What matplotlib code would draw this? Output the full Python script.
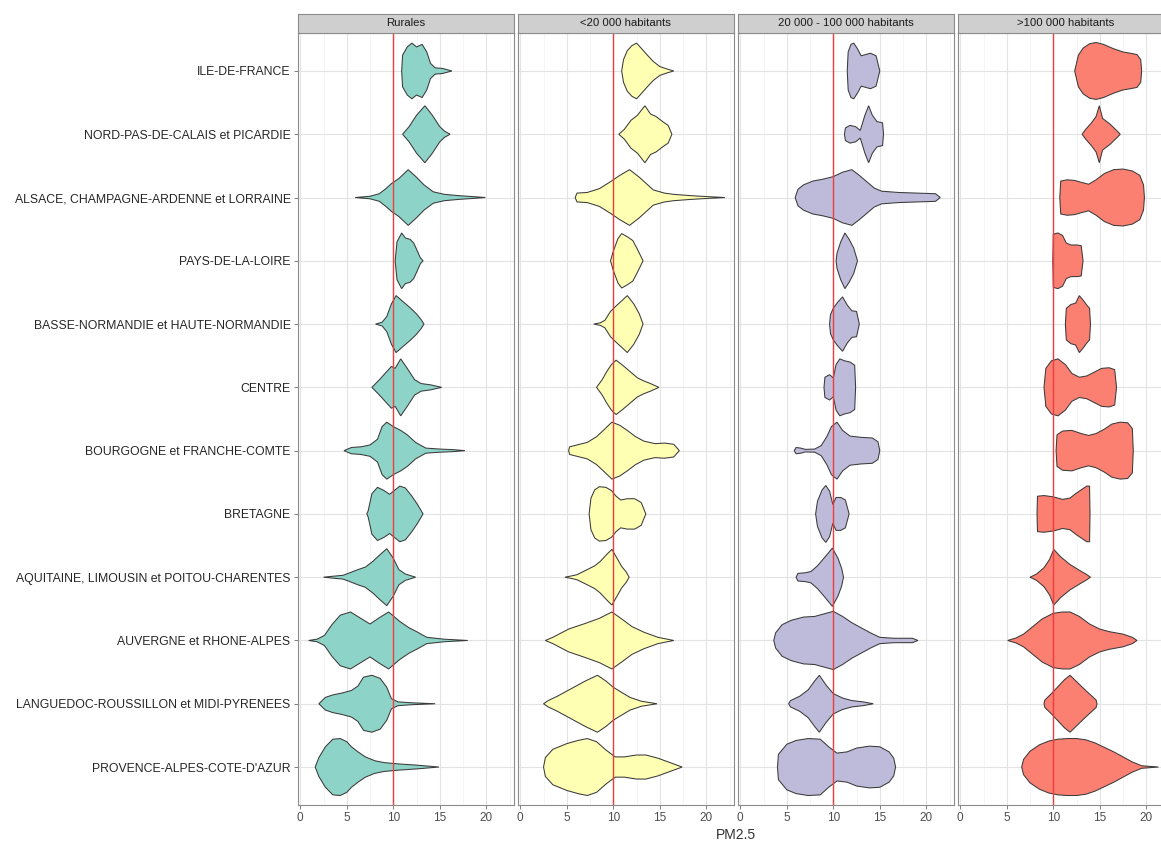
import matplotlib
matplotlib.use("Agg")
import matplotlib.pyplot as plt
from matplotlib.ticker import FixedLocator

plt.rcParams['font.family'] = ['Liberation Sans', 'DejaVu Sans']

regions = ["ILE-DE-FRANCE", "NORD-PAS-DE-CALAIS et PICARDIE",
           "ALSACE, CHAMPAGNE-ARDENNE et LORRAINE", "PAYS-DE-LA-LOIRE",
           "BASSE-NORMANDIE et HAUTE-NORMANDIE", "CENTRE",
           "BOURGOGNE et FRANCHE-COMTE", "BRETAGNE",
           "AQUITAINE, LIMOUSIN et POITOU-CHARENTES", "AUVERGNE et RHONE-ALPES",
           "LANGUEDOC-ROUSSILLON et MIDI-PYRENEES", "PROVENCE-ALPES-COTE-D'AZUR"]
panels = ["Rurales", "<20 000 habitants", "20 000 - 100 000 habitants", ">100 000 habitants"]
colors = ["#8DD3C7", "#FFFFB3", "#BEBADA", "#FB8072"]
x_ticks = [0, 5, 10, 15, 20]
threshold = 10

# violin outlines: PM2.5 values (knots) and half-widths of the density at each knot
rur_v = [
    [10.9, 11.0, 11.5, 12.0, 12.5, 13.1, 13.6, 14.0, 14.5, 15.3, 16.3],
    [11.0, 11.7, 12.5, 13.4, 14.2, 15.0, 15.5, 16.1],
    [5.9, 7.5, 8.5, 9.2, 9.8, 10.6, 11.6, 12.5, 13.3, 14.3, 15.5, 17.0, 18.5, 19.9],
    [10.2, 10.4, 10.9, 11.3, 11.8, 12.2, 12.6, 12.9, 13.2],
    [8.1, 8.8, 9.3, 9.8, 10.3, 11.0, 11.8, 12.5, 13.0, 13.3],
    [7.7, 8.5, 9.3, 9.8, 10.2, 10.8, 11.5, 12.3, 13.0, 14.0, 15.2],
    [4.7, 5.5, 6.5, 7.5, 8.3, 8.8, 9.3, 10.0, 10.8, 11.5, 12.4, 13.5, 15.0, 16.5, 17.7],
    [7.15, 7.3, 7.7, 8.3, 9.0, 9.6, 10.2, 10.7, 11.3, 12.0, 12.6, 13.2],
    [2.5, 3.5, 4.6, 5.5, 6.2, 7.0, 7.8, 8.6, 9.3, 10.0, 10.6, 11.3, 12.4],
    [0.9, 1.8, 2.6, 3.4, 4.3, 5.4, 6.5, 7.5, 8.5, 9.5, 10.7, 11.7, 12.5, 13.6, 15.5, 18.0],
    [2.0, 2.7, 3.5, 4.5, 5.5, 6.2, 6.8, 7.7, 8.6, 9.3, 9.8, 10.5, 12.0, 14.5],
    [1.6, 2.0, 2.7, 3.5, 4.3, 5.0, 5.5, 6.2, 7.0, 8.0, 9.0, 10.5, 12.5, 14.9],
]
rur_w = [
    [0, 0.25, 0.38, 0.44, 0.38, 0.42, 0.30, 0.12, 0.05, 0.04, 0],
    [0, 0.12, 0.30, 0.45, 0.30, 0.12, 0.05, 0],
    [0, 0.02, 0.06, 0.14, 0.22, 0.30, 0.44, 0.32, 0.20, 0.09, 0.05, 0.03, 0.015, 0],
    [0, 0.30, 0.44, 0.36, 0.34, 0.28, 0.15, 0.05, 0],
    [0, 0.03, 0.12, 0.32, 0.45, 0.36, 0.26, 0.16, 0.07, 0],
    [0, 0.12, 0.25, 0.33, 0.30, 0.45, 0.30, 0.12, 0.06, 0.04, 0],
    [0, 0.05, 0.06, 0.09, 0.18, 0.38, 0.45, 0.38, 0.32, 0.25, 0.13, 0.04, 0.025, 0.015, 0],
    [0, 0.05, 0.32, 0.42, 0.37, 0.31, 0.38, 0.44, 0.41, 0.28, 0.15, 0],
    [0, 0.015, 0.03, 0.08, 0.12, 0.16, 0.25, 0.36, 0.45, 0.30, 0.12, 0.05, 0],
    [0, 0.02, 0.08, 0.25, 0.40, 0.45, 0.35, 0.26, 0.36, 0.45, 0.30, 0.20, 0.14, 0.05, 0.02, 0],
    [0, 0.10, 0.14, 0.17, 0.21, 0.28, 0.42, 0.45, 0.40, 0.26, 0.08, 0.03, 0.015, 0],
    [0, 0.15, 0.32, 0.44, 0.45, 0.40, 0.32, 0.24, 0.16, 0.10, 0.07, 0.05, 0.03, 0],
]

small_v = [
    [10.9, 11.1, 11.5, 12.0, 12.5, 13.0, 13.6, 14.3, 15.0, 15.8, 16.5],
    [10.6, 11.2, 11.9, 12.6, 13.4, 14.0, 14.6, 15.3, 15.9, 16.3],
    [5.9, 6.1, 7.2, 8.5, 9.7, 10.7, 11.75, 12.8, 14.3, 15.5, 16.5, 18.3, 20.0, 22.0],
    [9.7, 10.0, 10.5, 10.9, 11.5, 12.1, 12.6, 13.0, 13.2],
    [7.9, 8.6, 9.1, 9.7, 10.4, 11.0, 11.5, 12.2, 12.8, 13.2],
    [8.2, 8.8, 9.3, 9.8, 10.3, 11.0, 11.8, 12.6, 13.3, 14.0, 14.9],
    [5.2, 5.3, 6.1, 7.2, 8.2, 9.0, 9.85, 10.7, 11.5, 12.4, 13.3, 14.5, 15.5, 16.5, 17.1],
    [7.4, 7.6, 8.0, 8.5, 9.2, 9.8, 10.3, 10.8, 11.5, 12.3, 13.0, 13.5],
    [4.8, 5.5, 6.1, 7.2, 8.0, 8.6, 9.3, 9.85, 10.4, 10.9, 11.4, 11.7],
    [2.7, 3.5, 5.2, 7.0, 8.5, 9.85, 11.0, 12.0, 13.3, 14.8, 16.5],
    [2.5, 3.0, 4.0, 5.5, 7.0, 8.3, 9.2, 10.0, 11.0, 11.8, 13.0, 14.7],
    [2.5, 2.7, 3.5, 5.0, 6.2, 7.2, 8.2, 9.2, 10.2, 11.2, 12.5, 13.5, 14.8, 16.1, 17.4],
]
small_w = [
    [0, 0.18, 0.32, 0.40, 0.44, 0.36, 0.26, 0.15, 0.07, 0.03, 0],
    [0, 0.08, 0.22, 0.30, 0.45, 0.32, 0.28, 0.20, 0.14, 0],
    [0, 0.07, 0.08, 0.14, 0.25, 0.35, 0.44, 0.32, 0.12, 0.07, 0.05, 0.03, 0.015, 0],
    [0, 0.15, 0.35, 0.43, 0.38, 0.32, 0.18, 0.06, 0],
    [0, 0.02, 0.06, 0.20, 0.30, 0.38, 0.45, 0.32, 0.16, 0],
    [0, 0.12, 0.25, 0.36, 0.43, 0.35, 0.25, 0.15, 0.10, 0.06, 0],
    [0, 0.06, 0.09, 0.13, 0.22, 0.33, 0.45, 0.40, 0.32, 0.22, 0.15, 0.11, 0.12, 0.10, 0],
    [0, 0.25, 0.38, 0.43, 0.42, 0.37, 0.28, 0.22, 0.24, 0.24, 0.18, 0],
    [0, 0.02, 0.04, 0.12, 0.18, 0.25, 0.36, 0.44, 0.30, 0.17, 0.08, 0],
    [0, 0.05, 0.18, 0.27, 0.35, 0.45, 0.33, 0.22, 0.13, 0.05, 0],
    [0, 0.05, 0.12, 0.24, 0.36, 0.45, 0.36, 0.26, 0.17, 0.10, 0.04, 0],
    [0, 0.15, 0.28, 0.37, 0.42, 0.45, 0.40, 0.27, 0.16, 0.16, 0.19, 0.19, 0.14, 0.07, 0],
]

mid_v = [
    [11.5, 11.6, 11.9, 12.2, 12.6, 13.0, 13.5, 14.0, 14.6, 15.0],
    [11.2, 11.3, 11.8, 12.4, 12.9, 13.4, 13.8, 14.2, 14.7, 15.3, 15.4],
    [5.9, 6.2, 6.8, 7.8, 8.9, 10.0, 11.0, 12.0, 12.8, 13.6, 14.4, 15.2, 17.0, 19.0, 21.0, 21.5],
    [10.3, 10.4, 10.8, 11.25, 11.7, 12.2, 12.6],
    [9.6, 9.7, 10.0, 10.5, 11.0, 11.5, 12.0, 12.5, 12.8],
    [9.0, 9.1, 9.6, 10.0, 10.3, 10.7, 11.2, 11.8, 12.3, 12.4],
    [5.8, 6.0, 6.5, 7.0, 8.0, 8.7, 9.3, 9.8, 10.4, 11.0, 11.8, 13.0, 14.2, 14.8, 15.0],
    [8.1, 8.3, 8.8, 9.2, 9.6, 9.95, 10.3, 10.8, 11.3, 11.7],
    [6.0, 6.2, 7.0, 7.6, 8.3, 9.0, 9.9, 10.5, 10.9, 11.1],
    [3.6, 3.8, 4.5, 5.5, 6.8, 8.0, 9.0, 10.0, 11.0, 12.0, 13.0, 14.0, 15.0, 16.5, 18.5, 19.1],
    [5.2, 5.4, 6.4, 7.3, 8.0, 8.5, 9.2, 10.0, 11.0, 12.0, 13.2, 14.3],
    [4.0, 4.1, 5.0, 6.0, 7.3, 8.6, 9.5, 10.4, 11.5, 12.5, 13.9, 15.0, 16.0, 16.5, 16.7],
]
mid_w = [
    [0, 0.30, 0.42, 0.44, 0.35, 0.24, 0.26, 0.28, 0.24, 0],
    [0, 0.10, 0.14, 0.12, 0.06, 0.30, 0.45, 0.30, 0.20, 0.18, 0],
    [0, 0.13, 0.20, 0.26, 0.29, 0.33, 0.40, 0.44, 0.35, 0.25, 0.15, 0.10, 0.08, 0.07, 0.06, 0],
    [0, 0.12, 0.30, 0.44, 0.34, 0.20, 0],
    [0, 0.15, 0.25, 0.35, 0.43, 0.30, 0.21, 0.20, 0],
    [0, 0.16, 0.20, 0.15, 0.36, 0.45, 0.42, 0.40, 0.35, 0],
    [0, 0.05, 0.04, 0.02, 0.025, 0.08, 0.22, 0.38, 0.45, 0.32, 0.23, 0.21, 0.20, 0.14, 0],
    [0, 0.20, 0.38, 0.45, 0.36, 0.15, 0.26, 0.26, 0.22, 0],
    [0, 0.06, 0.07, 0.09, 0.18, 0.30, 0.46, 0.30, 0.14, 0],
    [0, 0.12, 0.25, 0.32, 0.37, 0.38, 0.42, 0.46, 0.38, 0.28, 0.20, 0.12, 0.05, 0.035, 0.035, 0],
    [0, 0.05, 0.12, 0.22, 0.36, 0.45, 0.30, 0.16, 0.09, 0.05, 0.03, 0],
    [0, 0.20, 0.36, 0.42, 0.45, 0.44, 0.32, 0.22, 0.24, 0.30, 0.33, 0.32, 0.24, 0.14, 0],
]

big_v = [
    [12.3, 12.7, 13.2, 13.9, 14.6, 15.4, 16.5, 17.5, 18.3, 19.0, 19.4, 19.5],
    [13.1, 13.5, 14.1, 14.6, 14.95, 15.3, 16.1, 16.8, 17.2],
    [10.7, 10.8, 11.5, 12.3, 13.0, 13.8, 14.6, 15.5, 16.5, 17.5, 18.5, 19.3, 19.7, 19.8],
    [9.95, 10.0, 10.5, 11.0, 11.4, 11.9, 12.5, 13.0, 13.2],
    [11.3, 11.4, 11.9, 12.4, 12.8, 13.2, 13.6, 13.9, 14.0],
    [9.0, 9.2, 9.8, 10.5, 11.3, 12.0, 12.8, 13.6, 14.4, 15.2, 16.0, 16.6, 16.8],
    [10.3, 10.4, 11.0, 12.0, 13.0, 13.8, 14.6, 15.5, 16.3, 17.2, 18.0, 18.5, 18.6],
    [8.25, 8.3, 9.0, 10.0, 11.0, 11.8, 12.4, 13.0, 13.6, 13.9, 13.95],
    [7.5, 8.2, 9.0, 9.6, 10.05, 10.8, 11.8, 12.8, 13.5, 14.0],
    [5.1, 6.0, 6.8, 7.8, 8.8, 10.0, 11.0, 11.8, 12.8, 13.9, 15.0, 16.0, 17.5, 18.5, 19.0],
    [9.0, 9.1, 9.8, 10.5, 11.2, 11.8, 12.5, 13.2, 14.0, 14.6, 14.7],
    [6.6, 6.8, 7.5, 8.5, 9.5, 10.5, 11.5, 12.5, 13.5, 14.5, 15.5, 16.5, 17.5, 18.5, 19.5, 21.3],
]
big_w = [
    [0, 0.25, 0.36, 0.43, 0.45, 0.42, 0.35, 0.30, 0.28, 0.26, 0.18, 0],
    [0, 0.08, 0.18, 0.28, 0.45, 0.25, 0.16, 0.06, 0],
    [0, 0.26, 0.28, 0.27, 0.24, 0.21, 0.28, 0.38, 0.44, 0.45, 0.42, 0.35, 0.20, 0],
    [0, 0.42, 0.44, 0.40, 0.28, 0.25, 0.25, 0.24, 0],
    [0, 0.25, 0.31, 0.33, 0.45, 0.38, 0.30, 0.25, 0],
    [0, 0.30, 0.42, 0.45, 0.36, 0.22, 0.16, 0.18, 0.24, 0.30, 0.31, 0.28, 0],
    [0, 0.25, 0.31, 0.32, 0.27, 0.24, 0.27, 0.34, 0.42, 0.45, 0.44, 0.35, 0],
    [0, 0.28, 0.29, 0.27, 0.23, 0.25, 0.32, 0.38, 0.44, 0.44, 0],
    [0, 0.05, 0.15, 0.28, 0.44, 0.32, 0.20, 0.11, 0.05, 0],
    [0, 0.04, 0.10, 0.22, 0.34, 0.43, 0.45, 0.45, 0.38, 0.26, 0.18, 0.14, 0.10, 0.05, 0],
    [0, 0.06, 0.16, 0.27, 0.38, 0.45, 0.35, 0.25, 0.14, 0.06, 0],
    [0, 0.12, 0.25, 0.35, 0.41, 0.44, 0.45, 0.45, 0.43, 0.38, 0.31, 0.24, 0.16, 0.08, 0.02, 0],
]

panel_v = [rur_v, small_v, mid_v, big_v]
panel_w = [rur_w, small_w, mid_w, big_w]

# ---------------------------------------------------------------- layout
W, H = 1161, 841
fig = plt.figure(figsize=(W / 100, H / 100), dpi=100)
fig.patch.set_facecolor("white")

p_left0, p_step, p_w = 297.5, 220.0, 216.0
p_top, p_h = 33.0, 772.0
s_top, s_h = 14.0, 19.0
px_per_unit = 9.3
xlim = (-0.3, -0.3 + p_w / px_per_unit)


def rect(l, t, w, h):
    return [l / W, 1 - (t + h) / H, w / W, h / H]


for i, name in enumerate(panels):
    left = p_left0 + i * p_step
    ax = fig.add_axes(rect(left, p_top, p_w, p_h))
    ax.set_facecolor("white")
    ax.set_xlim(*xlim)
    ax.set_ylim(len(regions) - 1 + 0.6, -0.6)
    ax.xaxis.set_major_locator(FixedLocator(x_ticks))
    ax.xaxis.set_minor_locator(FixedLocator([2.5, 7.5, 12.5, 17.5, 22.5]))
    ax.set_yticks(range(len(regions)))
    ax.grid(which="major", color="#E3E3E3", lw=0.8, zorder=0)
    ax.grid(which="minor", axis="x", color="#F4F4F4", lw=0.6, zorder=0)
    ax.set_axisbelow(True)
    for sp in ax.spines.values():
        sp.set_color("#8C8C8C")
        sp.set_linewidth(0.8)
    ax.tick_params(axis="both", which="major", length=3, width=0.7, color="#7F7F7F",
                   labelsize=8.5, labelcolor="#4D4D4D", pad=2)
    ax.tick_params(axis="x", which="minor", length=0)
    ax.set_xticklabels([str(t) for t in x_ticks])
    if i == 0:
        ax.set_yticklabels(regions, fontsize=8.8, color="#262626")
    else:
        ax.tick_params(axis="y", length=0, labelleft=False)

    for j in range(len(regions)):
        v = panel_v[i][j]
        w = panel_w[i][j]
        xs = list(v) + list(v[::-1])
        ys = [j - a for a in w] + [j + a for a in w[::-1]]
        ax.fill(xs, ys, facecolor=colors[i], edgecolor="#3A3A3A", lw=0.75, zorder=2)

    ax.axvline(threshold, color="#F03C3C", lw=1.0, zorder=3)

    sax = fig.add_axes(rect(left, s_top, p_w, s_h))
    sax.set_facecolor("#CFCFCF")
    sax.set_xticks([])
    sax.set_yticks([])
    for sp in sax.spines.values():
        sp.set_color("#8C8C8C")
        sp.set_linewidth(0.8)
    sax.text(0.5, 0.5, name, ha="center", va="center", fontsize=8.2, color="#1A1A1A",
             transform=sax.transAxes)

fig.text((p_left0 + 3 * p_step + p_w + p_left0) / 2 / W, 1 - 835 / H, "PM2.5",
         ha="center", va="center", fontsize=10, color="#333333")

fig.savefig("out.png", dpi=100, facecolor="white")
